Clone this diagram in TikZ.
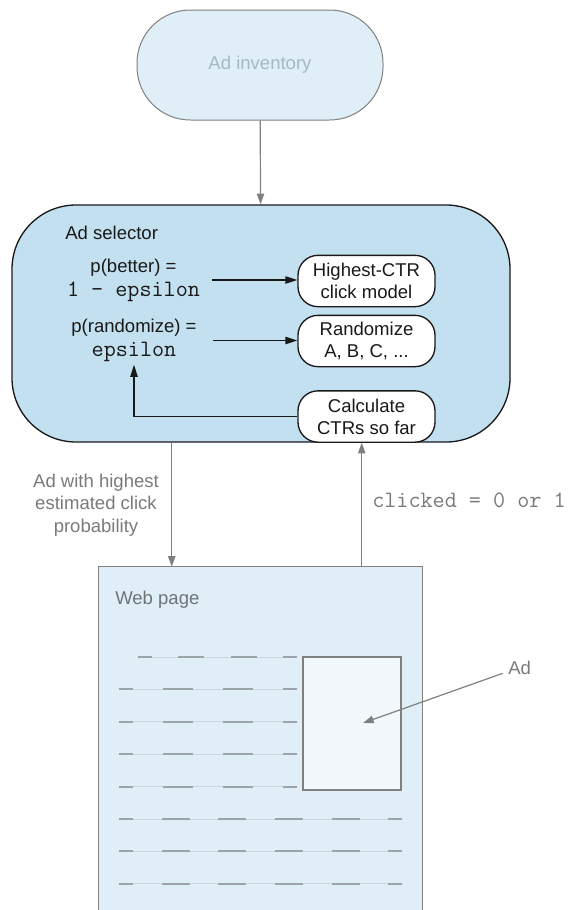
\documentclass[tikz,border=0pt]{standalone}
\usepackage{fontspec}
\setmainfont{Liberation Sans}
\usetikzlibrary{arrows.meta, positioning, calc}
\definecolor{adsel}{RGB}{195,224,240}
\definecolor{adfill}{RGB}{224,239,247}
\definecolor{adpale}{RGB}{242,248,252}
\definecolor{adgrey}{RGB}{128,128,128}
\definecolor{adlabel}{RGB}{122,122,122}
\definecolor{adfaint}{RGB}{166,184,194}
\definecolor{adpage}{RGB}{110,116,120}
\definecolor{adink}{RGB}{25,25,25}
\definecolor{adrule}{RGB}{200,214,222}
\definecolor{addash}{RGB}{156,164,169}
\newcommand{\adcode}[1]{{\ttfamily\fontsize{17.6}{18}\selectfont #1}}
\tikzset{
  source/.style   = {rectangle, rounded corners=40pt, draw=adgrey, line width=0.75pt,
                     fill=adfill, text=adfaint, minimum width=184.5pt, minimum height=82.5pt,
                     font=\fontsize{13.9}{16.5}\selectfont},
  selector/.style = {rectangle, rounded corners=48pt, draw=adink, line width=1pt,
                     fill=adsel, minimum width=373.5pt, minimum height=177.75pt},
  stepbox/.style  = {rectangle, rounded corners=15pt, draw=adink, line width=1pt,
                     fill=white, text=adink, align=center, inner sep=2pt,
                     minimum width=102.75pt, minimum height=38.5pt,
                     font=\fontsize{13.9}{16.5}\selectfont},
  prob/.style     = {align=center, text=adink, inner sep=2pt, minimum width=117.75pt,
                     font=\fontsize{13.9}{18}\selectfont},
  plain/.style    = {inner sep=0pt, font=\fontsize{13.9}{16.5}\selectfont},
  pagebox/.style  = {rectangle, fill=adfill, minimum width=242.25pt, minimum height=257.25pt},
  adbox/.style    = {rectangle, draw=adgrey, line width=0.9pt, fill=adpale,
                     minimum width=73.5pt, minimum height=99.75pt},
  inkflow/.style  = {-{Triangle[length=9pt,width=5.5pt]}, line width=1.1pt, draw=adink},
  greyflow/.style = {-{Triangle[length=8pt,width=5.5pt]}, line width=0.9pt, draw=adgrey},
  rowline/.style  = {line width=0.6pt, draw=adrule},
  rowdash/.style  = {line width=1.6pt, draw=addash},
}

\begin{document}
\begin{tikzpicture}[x=0.75pt, y=-0.75pt]
  \useasboundingbox (0,0) rectangle (575,910);

  % ad inventory and ad selector
  \node[source] (inv) at (260,65) {Ad inventory};
  \node[selector] (sel) at (261,323.5) {};
  \node[plain, anchor=west, text=adink] (seltitle) at (65,233) {Ad selector};

  \node[prob] (better) at (133.5,280) {p(better) =\\\adcode{1 - epsilon}};
  \node[prob] (rand) at (134,340.5) {p(randomize) =\\\adcode{epsilon}};

  \node[stepbox] (best) at (366.5,281) {Highest-CTR\\click model};
  \node[stepbox] (shuffle) at (366.5,341) {Randomize\\A, B, C, ...};
  \node[stepbox] (calc) at (366.5,416.5) {Calculate\\CTRs so far};

  \draw[greyflow] (inv) -- (sel);
  \draw[inkflow] (better.east) -- (better.east -| best.west);
  \draw[inkflow] (rand.east) -- (rand.east -| shuffle.west);
  \draw[inkflow] (calc.west) -| (rand.south);

  % web page
  \node[pagebox] (web) at (260.5,738.5) {};
  \draw[adgrey, line width=0.9pt] (web.south west) -- (web.north west)
    -- (web.north east) -- (web.south east);
  \node[plain, anchor=west, text=adpage] (webtitle) at (115,600) {Web page};

  % text rows
  \draw[rowline] (138,657) -- (297,657);
  \foreach \a/\b in {138/152,178/204,231/257,283/297}
    \draw[rowdash] (\a,657) -- (\b,657);
  \foreach \ry in {689.4,721.8,754.2,786.6}{
    \draw[rowline] (119,\ry) -- (297,\ry);
    \foreach \a/\b in {119/133,163/193,223/253,283/297}
      \draw[rowdash] (\a,\ry) -- (\b,\ry);
  }
  \foreach \ry in {819,851.4,883.8}{
    \draw[rowline] (119,\ry) -- (402,\ry);
    \foreach \a/\b in {119/133,162/190,218/246,275/303,332/360,388/402}
      \draw[rowdash] (\a,\ry) -- (\b,\ry);
  }

  \node[adbox] (ad) at (352,723.5) {};
  \node[plain, anchor=west, text=adlabel] (adlbl) at (508,668) {Ad};
  \coordinate (adtip) at (363,723);
  \draw[greyflow] ([shift={(-4pt,-4pt)}]adlbl.west) -- (adtip);

  % between selector and page
  \coordinate (webin) at ([xshift=54.75pt]web.north west);
  \coordinate (webout) at ([xshift=197.25pt]web.north west);
  \draw[greyflow] (webin |- sel.south) -- (webin);
  \draw[greyflow] (webout) -- (webout |- sel.south);
  \node[plain, align=center, text=adlabel, font=\fontsize{13.9}{17}\selectfont] (shown)
    at (96,505) {Ad with highest\\estimated click\\probability};
  \node[plain, anchor=west, text=adlabel] (clicked) at (372,500)
    {\adcode{clicked = 0 or 1}};
\end{tikzpicture}
\end{document}
